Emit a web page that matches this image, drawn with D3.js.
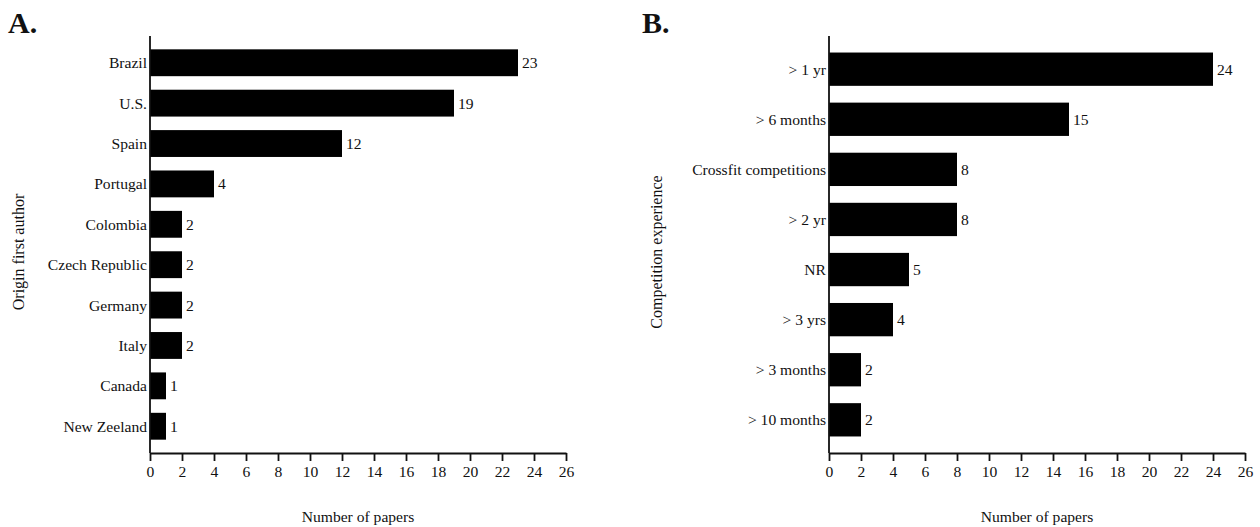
<!DOCTYPE html>
<html>
<head>
<meta charset="utf-8">
<script src="https://cdn.jsdelivr.net/npm/d3@7"></script>
<style>
  html, body { margin: 0; padding: 0; background: #fff; }
  svg text { font-family: "Liberation Serif", "DejaVu Serif", serif; fill: #111; }
</style>
</head>
<body>
<svg id="chart" width="1260" height="527"></svg>
<script>
// Panel A: country of the first author
const countries = ["Brazil", "U.S.", "Spain", "Portugal", "Colombia", "Czech Republic", "Germany", "Italy", "Canada", "New Zeeland"];
const countryPapers = [23, 19, 12, 4, 2, 2, 2, 2, 1, 1];

// Panel B: competition experience of participants
const experience = ["> 1 yr", "> 6 months", "Crossfit competitions", "> 2 yr", "NR", "> 3 yrs", "> 3 months", "> 10 months"];
const experiencePapers = [24, 15, 8, 8, 5, 4, 2, 2];

const xTicks = [0, 2, 4, 6, 8, 10, 12, 14, 16, 18, 20, 22, 24, 26];

const FS = "15.6px";
const svg = d3.select("#chart");

function drawPanel(cfg) {
  const g = svg.append("g");
  const x = d3.scaleLinear().domain([0, 26]).range([cfg.left, cfg.right]);
  const y = d3.scaleBand().domain(cfg.cats).range([cfg.top, cfg.bottom])
    .paddingInner(0.335).paddingOuter(0.33);

  const rows = cfg.cats.map((c, i) => ({ c, v: cfg.vals[i] }));

  g.selectAll("rect.bar").data(rows).join("rect")
    .attr("class", "bar")
    .attr("x", x(0))
    .attr("y", d => y(d.c))
    .attr("width", d => x(d.v) - x(0))
    .attr("height", y.bandwidth())
    .attr("fill", "#000");

  g.selectAll("text.val").data(rows).join("text")
    .attr("class", "val")
    .attr("x", d => x(d.v) + 4)
    .attr("y", d => y(d.c) + y.bandwidth() / 2)
    .attr("dy", "0.35em")
    .style("font-size", FS)
    .text(d => d.v);

  // category labels
  g.selectAll("text.cat").data(rows).join("text")
    .attr("class", "cat")
    .attr("x", x(0) - 3)
    .attr("y", d => y(d.c) + y.bandwidth() / 2)
    .attr("dy", "0.35em")
    .attr("text-anchor", "end")
    .style("font-size", FS)
    .text(d => d.c);

  // vertical axis line
  g.append("line")
    .attr("x1", x(0)).attr("x2", x(0))
    .attr("y1", cfg.top).attr("y2", cfg.bottom)
    .attr("stroke", "#111").attr("stroke-width", 1.8);

  // bottom axis
  const xAxis = g.append("g")
    .attr("transform", `translate(0,${cfg.bottom})`)
    .call(d3.axisBottom(x).tickValues(xTicks).tickSize(8).tickPadding(5).tickSizeOuter(0));
  xAxis.select(".domain").attr("stroke", "#111").attr("stroke-width", 1.8);
  xAxis.selectAll(".tick line").attr("stroke", "#111").attr("stroke-width", 1.8);
  xAxis.selectAll(".tick text")
    .style("font-family", "'Liberation Serif', 'DejaVu Serif', serif")
    .style("font-size", FS).attr("fill", "#111");

  g.append("text")
    .attr("x", (cfg.left + cfg.right) / 2)
    .attr("y", 522)
    .attr("text-anchor", "middle")
    .style("font-size", FS)
    .text("Number of papers");

  g.append("text")
    .attr("transform", `translate(${cfg.yTitleX},252) rotate(-90)`)
    .attr("text-anchor", "middle")
    .attr("dy", "0.35em")
    .style("font-size", "16px")
    .text(cfg.yTitle);

  g.append("text")
    .attr("x", cfg.letterX)
    .attr("y", 33)
    .style("font-size", "30px")
    .style("font-weight", "bold")
    .text(cfg.letter);
}

drawPanel({
  cats: countries, vals: countryPapers,
  left: 150, right: 566, top: 36, bottom: 453,
  yTitle: "Origin first author", yTitleX: 18,
  letter: "A.", letterX: 8
});

drawPanel({
  cats: experience, vals: experiencePapers,
  left: 829, right: 1245, top: 36, bottom: 453,
  yTitle: "Competition experience", yTitleX: 656,
  letter: "B.", letterX: 642
});
</script>
</body>
</html>
